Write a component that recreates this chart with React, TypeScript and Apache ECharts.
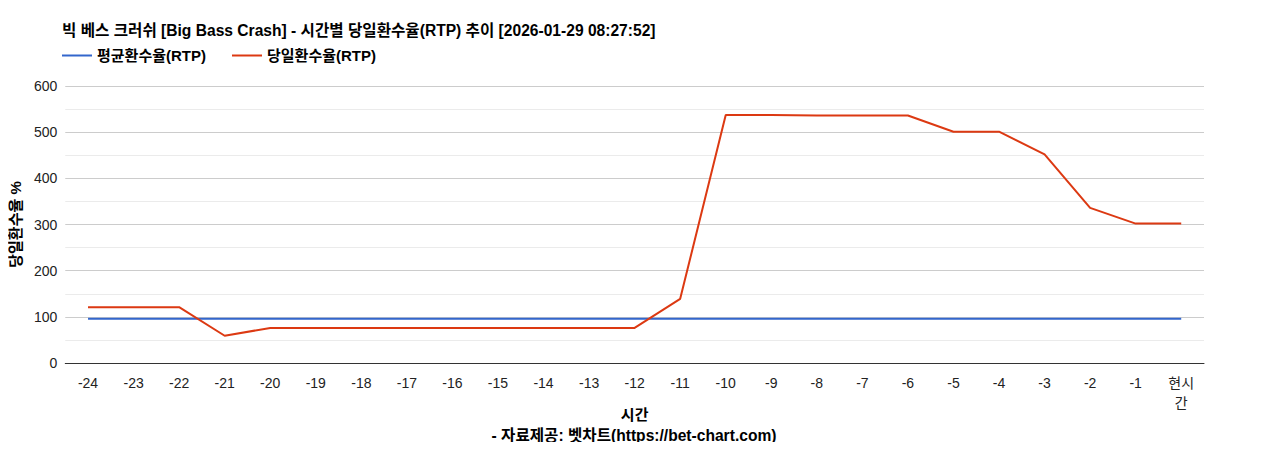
import React, { useEffect, useRef } from 'react';
import * as echarts from 'echarts';

const FONT = "'Liberation Sans', Arial, 'Noto Sans CJK KR', sans-serif";

const TITLE = '빅 베스 크러쉬 [Big Bass Crash] - 시간별 당일환수율(RTP) 추이 [2026-01-29 08:27:52]';
const FOOTER = '- 자료제공: 벳차트(https://bet-chart.com)';

const hours = [
  '-24', '-23', '-22', '-21', '-20', '-19', '-18', '-17', '-16', '-15', '-14', '-13',
  '-12', '-11', '-10', '-9', '-8', '-7', '-6', '-5', '-4', '-3', '-2', '-1', '현시간',
];

const avgRtp = [
  96, 96, 96, 96, 96, 96, 96, 96, 96, 96, 96, 96,
  96, 96, 96, 96, 96, 96, 96, 96, 96, 96, 96, 96, 96,
];

const dailyRtp = [
  121, 121, 121, 59, 76, 76, 76, 76, 76, 76, 76, 76,
  76, 139, 537, 537, 536, 536, 536, 501, 501, 452, 336, 302, 302,
];

const yTicks = [0, 100, 200, 300, 400, 500, 600];

const COLORS = {
  AVG: '#3366cc',
  DAILY: '#dc3912',
  MAJOR: '#cccccc',
  MINOR: '#ebebeb',
  TEXT: '#222222',
};

const BOLD = { fontSize: 15, fontWeight: 'bold' as const, color: '#000', fontFamily: FONT };

const App = (): JSX.Element => {
  const divEL = useRef<HTMLDivElement>(null);

  useEffect(() => {
    const instance = echarts.init(divEL.current as any, null, { renderer: 'svg' });

    const option: echarts.EChartsOption = {
      animation: false,
      textStyle: { fontFamily: FONT },
      title: {
        text: TITLE,
        left: 57,
        top: 18,
        textStyle: { ...BOLD, fontSize: 15.6 },
      },
      legend: {
        left: 57,
        top: 43,
        icon: 'rect',
        itemWidth: 30,
        itemHeight: 2,
        itemGap: 26,
        textStyle: BOLD,
        data: ['평균환수율(RTP)', '당일환수율(RTP)'],
      },
      grid: { left: 63, right: 64, top: 86, bottom: 87 },
      xAxis: {
        type: 'category',
        data: hours,
        boundaryGap: true,
        name: '시간',
        nameLocation: 'middle',
        nameGap: 44,
        nameMoveOverlap: false,
        nameTextStyle: BOLD,
        axisLine: { lineStyle: { color: '#333', width: 1 } },
        axisTick: { show: false },
        axisLabel: {
          color: COLORS.TEXT,
          fontSize: 14,
          margin: 10,
          interval: 0,
          lineHeight: 20,
          formatter: (v: string) => (v === '현시간' ? '현시\n간' : v),
        },
      },
      yAxis: {
        type: 'value',
        min: yTicks[0],
        max: yTicks[yTicks.length - 1],
        interval: 100,
        name: '당일환수율 %',
        nameLocation: 'middle',
        nameGap: 22,
        nameRotate: 90,
        nameTextStyle: BOLD,
        axisLine: { show: false },
        axisTick: { show: false },
        axisLabel: { color: COLORS.TEXT, fontSize: 14, margin: 8 },
        splitLine: { lineStyle: { color: COLORS.MAJOR } },
        minorTick: { show: false, splitNumber: 2 },
        minorSplitLine: { show: true, lineStyle: { color: COLORS.MINOR } },
      },
      graphic: [
        {
          type: 'text',
          left: 'center',
          top: 428,
          style: {
            text: FOOTER,
            fontSize: 15.6,
            fontWeight: 'bold',
            fill: '#000',
            fontFamily: FONT,
          },
        },
      ],
      series: [
        {
          name: '평균환수율(RTP)',
          type: 'line',
          data: avgRtp,
          symbol: 'none',
          lineStyle: { color: COLORS.AVG, width: 2 },
          itemStyle: { color: COLORS.AVG },
        },
        {
          name: '당일환수율(RTP)',
          type: 'line',
          data: dailyRtp,
          symbol: 'none',
          lineStyle: { color: COLORS.DAILY, width: 2 },
          itemStyle: { color: COLORS.DAILY },
        },
      ],
    };

    instance.setOption(option);

    return () => {
      instance.dispose();
    };
  }, []);

  return <div ref={divEL} style={{ width: 1268, height: 450, margin: -8 }}></div>;
};

export default App;
